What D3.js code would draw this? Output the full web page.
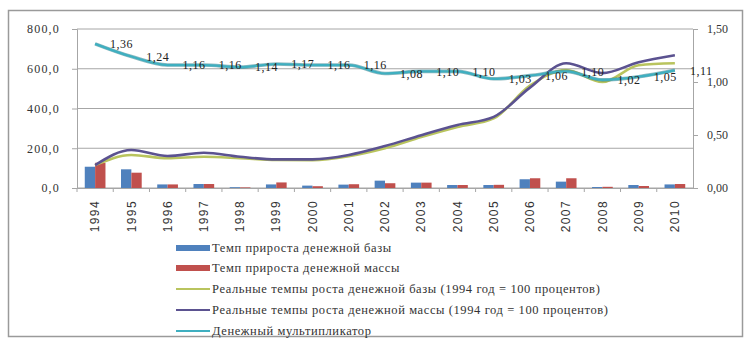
<!DOCTYPE html>
<html>
<head>
<meta charset="utf-8">
<script src="https://cdn.jsdelivr.net/npm/d3@7/dist/d3.min.js"></script>
<style>
  body { margin: 0; background: #fff; }
  svg { display: block; }
  .serif { font-family: "Liberation Serif", "Times New Roman", "DejaVu Serif", serif; }
  .sans { font-family: "Liberation Sans", Arial, "DejaVu Sans", sans-serif; }
</style>
</head>
<body>
<svg id="chart" width="749" height="338"></svg>
<script>
// Years on the category axis
const years = ["1994","1995","1996","1997","1998","1999","2000","2001","2002",
               "2003","2004","2005","2006","2007","2008","2009","2010"];

// Bars, left axis (percent)
const baseGrowth = [107, 94, 18, 20, 4, 18, 12, 17, 37, 27, 15, 15, 44, 32, 5, 15, 18];
const massGrowth = [127, 77, 18, 20, 3, 28, 9, 19, 24, 27, 15, 16, 49, 49, 6, 10, 20];

// Lines, left axis (1994 = 100)
const realBase = [115, 166, 150, 157, 150, 141, 140, 160, 200, 256, 307, 350, 515, 593, 533, 618, 628];
const realMass = [115, 191, 161, 177, 157, 144, 144, 166, 211, 266, 317, 358, 505, 628, 578, 633, 668];

// Line, right axis
const multiplier = [1.36, 1.24, 1.16, 1.16, 1.14, 1.17, 1.16, 1.16, 1.08,
                    1.10, 1.10, 1.03, 1.06, 1.10, 1.02, 1.05, 1.11];

const leftTicks = [0, 200, 400, 600, 800];
const rightTicks = [0, 0.5, 1, 1.5];

const legendLabels = [
  "Темп прироста денежной базы",
  "Темп прироста денежной массы",
  "Реальные темпы роста денежной базы (1994 год = 100 процентов)",
  "Реальные темпы роста денежной массы (1994 год = 100 процентов)",
  "Денежный мультипликатор"
];

const C = {
  base: "#4F81BD", mass: "#C0504D",
  realBase: "#B9C45E", realMass: "#5B5290", mult: "#3FAFC0",
  grid: "#A6A6A6", axis: "#A6A6A6", text: "#333"
};

const svg = d3.select("#chart");
const plot = { left: 77, right: 693, top: 29, bottom: 188 };

// Outer frame
svg.append("rect")
  .attr("x", 8.5).attr("y", 10.5).attr("width", 734).attr("height", 326)
  .attr("fill", "none").attr("stroke", "#9a9a9a").attr("stroke-width", 1.5);

const x = d3.scaleBand().domain(years).range([plot.left, plot.right]).padding(0);
const yL = d3.scaleLinear().domain([0, 800]).range([plot.bottom, plot.top]);
const yR = d3.scaleLinear().domain([0, 1.5]).range([plot.bottom, plot.top]);

const barW = x.bandwidth() / 3.5;
const inner = d3.scaleBand().domain(["base", "mass"])
  .range([x.bandwidth() / 2 - barW, x.bandwidth() / 2 + barW]).padding(0);

// Horizontal gridlines
svg.append("g").selectAll("line").data(leftTicks).join("line")
  .attr("x1", plot.left).attr("x2", plot.right)
  .attr("y1", d => yL(d)).attr("y2", d => yL(d))
  .attr("stroke", C.grid).attr("stroke-width", 1);

// Left axis
const fmtL = d => d3.format(".1f")(d).replace(".", ",");
const axL = svg.append("g").attr("transform", `translate(${plot.left},0)`)
  .call(d3.axisLeft(yL).tickValues(leftTicks).tickFormat(fmtL).tickSize(5).tickPadding(12));
axL.attr("font-family", null);
axL.select(".domain").attr("stroke", C.axis);
axL.selectAll(".tick line").attr("stroke", C.axis);
axL.selectAll("text").attr("fill", C.text).attr("class", "serif")
  .style("font-size", "12px").style("letter-spacing", "1.2px");

// Right axis
const fmtR = d => d.toFixed(2).replace(".", ",");
const axR = svg.append("g").attr("transform", `translate(${plot.right},0)`)
  .call(d3.axisRight(yR).tickValues(rightTicks).tickFormat(fmtR).tickSize(5).tickPadding(9));
axR.attr("font-family", null);
axR.select(".domain").attr("stroke", C.axis);
axR.selectAll(".tick line").attr("stroke", C.axis);
axR.selectAll("text").attr("fill", C.text).attr("class", "serif")
  .style("font-size", "12px");

// Category axis with rotated year labels
const axX = svg.append("g").attr("transform", `translate(0,${plot.bottom})`)
  .call(d3.axisBottom(x).tickSize(0));
axX.attr("font-family", null);
axX.select(".domain").attr("stroke", C.axis);
axX.selectAll("text")
  .attr("transform", "rotate(-90)")
  .attr("x", -12).attr("y", 0).attr("dy", "0.35em")
  .style("text-anchor", "end")
  .attr("fill", C.text).attr("class", "sans")
  .style("font-size", "12px").style("letter-spacing", "1.4px");

// Tick marks between categories
svg.append("g").selectAll("line").data(years).join("line")
  .attr("x1", d => x(d)).attr("x2", d => x(d))
  .attr("y1", plot.bottom).attr("y2", plot.bottom + 4)
  .attr("stroke", C.axis);

// Bars
const barData = years.map((y, i) => ({ year: y, vals: [
  { key: "base", v: baseGrowth[i] }, { key: "mass", v: massGrowth[i] } ] }));
svg.append("g").selectAll("g").data(barData).join("g")
  .attr("transform", d => `translate(${x(d.year)},0)`)
  .selectAll("rect").data(d => d.vals).join("rect")
  .attr("x", d => inner(d.key)).attr("width", inner.bandwidth())
  .attr("y", d => yL(d.v)).attr("height", d => yL(0) - yL(d.v))
  .attr("fill", d => d.key === "base" ? C.base : C.mass);

const cx = d => x(d) + x.bandwidth() / 2;

// Real growth lines
const lineL = d3.line().x((d, i) => cx(years[i])).y(d => yL(d)).curve(d3.curveMonotoneX);
[[realBase, C.realBase], [realMass, C.realMass]].forEach(([arr, col]) => {
  svg.append("path").datum(arr).attr("d", lineL)
    .attr("fill", "none").attr("stroke", col).attr("stroke-width", 2.6)
    .attr("stroke-linejoin", "round");
});

// Money multiplier line
const lineR = d3.line().x((d, i) => cx(years[i])).y(d => yR(d)).curve(d3.curveMonotoneX);
svg.append("path").datum(multiplier).attr("d", lineR)
  .attr("fill", "none").attr("stroke", "#2E7F8C").attr("stroke-width", 3.6).attr("opacity", 0.55);
svg.append("path").datum(multiplier).attr("d", lineR)
  .attr("fill", "none").attr("stroke", C.mult).attr("stroke-width", 2.2);

// Multiplier value labels
svg.append("g").selectAll("text").data(multiplier).join("text")
  .attr("class", "serif")
  .attr("x", (d, i) => cx(years[i]) + 15)
  .attr("y", d => yR(d)).attr("dy", "0.35em")
  .attr("fill", "#222")
  .style("font-size", "12px").style("letter-spacing", "0.5px")
  .text(d => d.toFixed(2).replace(".", ","));

// Legend
const legendY = [248, 268, 289, 310, 331];
const legendKeys = [
  { color: C.base, type: "bar" }, { color: C.mass, type: "bar" },
  { color: C.realBase, type: "line" }, { color: C.realMass, type: "line" },
  { color: C.mult, type: "line" }
];
const lg = svg.append("g").selectAll("g").data(legendLabels).join("g")
  .attr("transform", (d, i) => `translate(176,${legendY[i]})`);
lg.append("rect")
  .attr("x", 0).attr("width", 34)
  .attr("y", (d, i) => legendKeys[i].type === "bar" ? -3 : -1)
  .attr("height", (d, i) => legendKeys[i].type === "bar" ? 6 : 2)
  .attr("fill", (d, i) => legendKeys[i].color);
lg.append("text")
  .attr("class", "serif")
  .attr("x", 36).attr("dy", "0.35em")
  .attr("fill", "#333")
  .style("font-size", "12.5px").style("letter-spacing", "0.6px")
  .text(d => d);
</script>
</body>
</html>
